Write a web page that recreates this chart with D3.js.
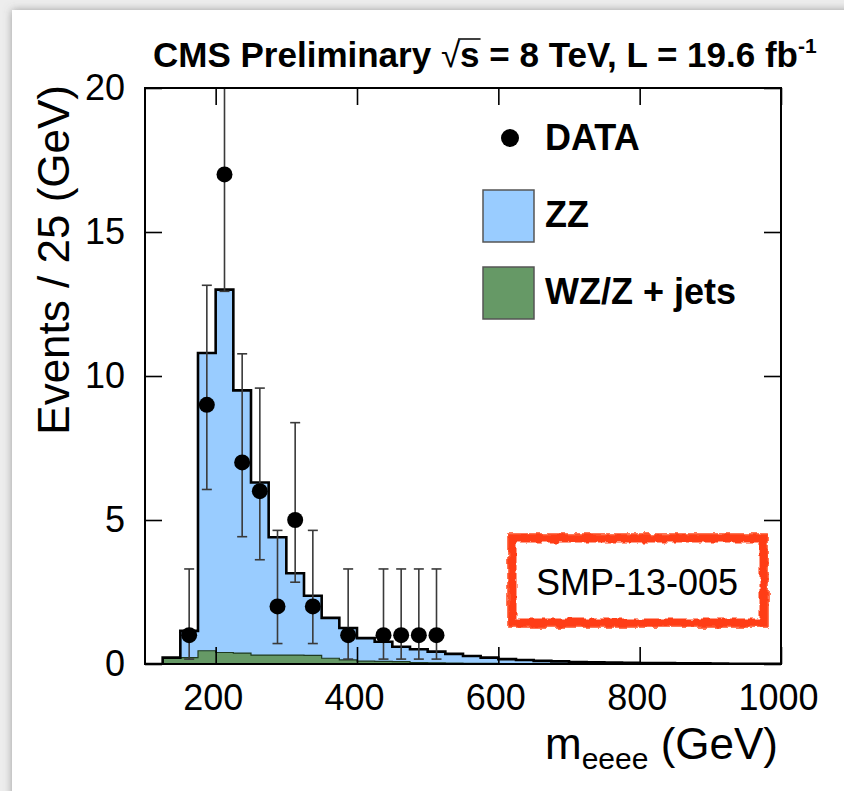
<!DOCTYPE html>
<html>
<head>
<meta charset="utf-8">
<script src="https://cdn.jsdelivr.net/npm/d3@7"></script>
<style>
  html, body { margin: 0; padding: 0; background: #ededed; }
  svg { display: block; font-family: "Liberation Sans", Arial, Helvetica, sans-serif; }
</style>
</head>
<body>
<div id="chart"></div>
<script>
// bins of 25 GeV (lower edges), last edge is 1000
const binLow = [100, 125, 150, 175, 200, 225, 250, 275, 300, 325, 350, 375,
                400, 425, 450, 475, 500, 525, 550, 575, 600, 625, 650, 675,
                700, 725, 750, 775, 800, 825, 850, 875, 900, 925, 950, 975];
const binEnd = 1000;

// stacked MC expectations per bin
const zzEvents = [0, 0.02, 0.93, 10.34, 12.6, 9.12, 5.99, 4.09, 2.84, 2.07, 1.40, 1.11,
                  0.80, 0.68, 0.52, 0.46, 0.39, 0.32, 0.26, 0.20, 0.16, 0.14, 0.11, 0.09,
                  0.07, 0.06, 0.05, 0.04, 0.03, 0.03, 0.02, 0.02, 0.015, 0.01, 0.01, 0.01];
const wzEvents = [0, 0.20, 0.22, 0.46, 0.40, 0.38, 0.31, 0.31, 0.31, 0.30, 0.20, 0.14,
                  0.10, 0.09, 0.08, 0.05, 0.04, 0.03, 0.02, 0.02, 0.01, 0, 0, 0,
                  0, 0, 0, 0, 0, 0, 0, 0, 0, 0, 0, 0];

// observed data (bin centres), with asymmetric poisson intervals
const dataMass = [162.5, 187.5, 212.5, 237.5, 262.5, 287.5, 312.5, 337.5, 387.5, 437.5, 462.5, 487.5, 512.5];
const dataCount = [1, 9, 17, 7, 6, 2, 5, 2, 1, 1, 1, 1, 1];
const dataLow = [0.17, 6.06, 12.94, 4.42, 3.62, 0.71, 2.84, 0.71, 0.17, 0.17, 0.17, 0.17, 0.17];
const dataHigh = [3.30, 13.15, 22.3, 10.77, 9.58, 4.64, 8.38, 4.64, 3.30, 3.30, 3.30, 3.30, 3.30];

const xTicks = [200, 400, 600, 800, 1000];
const yTicks = [0, 5, 10, 15, 20];

const legendItems = [
  {label: 'DATA', type: 'marker'},
  {label: 'ZZ', type: 'box', color: '#99ccff'},
  {label: 'WZ/Z + jets', type: 'box', color: '#669966'}
];

const width = 844, height = 791;
const frameL = 145, frameR = 781, frameT = 88, frameB = 664;

const svg = d3.select('#chart').append('svg')
    .attr('width', width)
    .attr('height', height);

const defs = svg.append('defs');

const shadow = defs.append('filter').attr('id', 'shadow')
    .attr('x', '-5%').attr('y', '-5%').attr('width', '110%').attr('height', '110%');
shadow.append('feDropShadow')
    .attr('dx', 0).attr('dy', 0)
    .attr('stdDeviation', 4)
    .attr('flood-color', '#666')
    .attr('flood-opacity', 0.6);

const rough = defs.append('filter').attr('id', 'rough')
    .attr('x', '-10%').attr('y', '-10%').attr('width', '120%').attr('height', '120%');
rough.append('feTurbulence')
    .attr('type', 'fractalNoise')
    .attr('baseFrequency', 0.12)
    .attr('numOctaves', 2)
    .attr('seed', 3)
    .attr('result', 'noise');
rough.append('feDisplacementMap')
    .attr('in', 'SourceGraphic')
    .attr('in2', 'noise')
    .attr('scale', 6)
    .attr('xChannelSelector', 'R')
    .attr('yChannelSelector', 'G');

defs.append('clipPath').attr('id', 'plotClip')
  .append('rect')
    .attr('x', frameL).attr('y', frameT)
    .attr('width', frameR - frameL).attr('height', frameB - frameT);

// white card
svg.append('rect')
    .attr('x', 12).attr('y', 10)
    .attr('width', width + 20).attr('height', height + 20)
    .attr('fill', '#fff')
    .attr('filter', 'url(#shadow)');

const x = d3.scaleLinear().domain([100, 1000]).range([frameL, frameR]);
const y = d3.scaleLinear().domain([0, 20]).range([frameB, frameT]);

const bins = binLow.map((b, i) => ({x0: b, zz: zzEvents[i], wz: wzEvents[i]}));
bins.push({x0: binEnd, zz: zzEvents[zzEvents.length - 1], wz: wzEvents[wzEvents.length - 1]});

const plot = svg.append('g').attr('clip-path', 'url(#plotClip)');

// total stack (ZZ on top of WZ)
plot.append('path')
    .datum(bins)
    .attr('fill', '#99ccff')
    .attr('d', d3.area()
        .curve(d3.curveStepAfter)
        .x(d => x(d.x0))
        .y0(y(0))
        .y1(d => y(d.zz + d.wz)));

plot.append('path')
    .datum(bins)
    .attr('fill', '#669966')
    .attr('stroke', '#1f3a1f')
    .attr('stroke-width', 1.2)
    .attr('d', d3.area()
        .curve(d3.curveStepAfter)
        .x(d => x(d.x0))
        .y0(y(0))
        .y1(d => y(d.wz)));

plot.append('path')
    .datum(bins)
    .attr('fill', 'none')
    .attr('stroke', '#000')
    .attr('stroke-width', 2.6)
    .attr('d', d3.line()
        .curve(d3.curveStepAfter)
        .x(d => x(d.x0))
        .y(d => y(d.zz + d.wz)));

// data points with error bars
const pts = plot.append('g')
    .selectAll('g')
    .data(dataMass.map((m, i) => ({m, n: dataCount[i], lo: dataLow[i], hi: dataHigh[i]})))
    .join('g');

pts.append('line')
    .attr('x1', d => x(d.m)).attr('x2', d => x(d.m))
    .attr('y1', d => y(d.lo)).attr('y2', d => y(d.hi))
    .attr('stroke', '#3a3a3a')
    .attr('stroke-width', 1.6);

pts.selectAll('line.cap')
    .data(d => [{m: d.m, v: d.lo}, {m: d.m, v: d.hi}])
    .join('line')
    .attr('class', 'cap')
    .attr('x1', d => x(d.m) - 5).attr('x2', d => x(d.m) + 5)
    .attr('y1', d => y(d.v)).attr('y2', d => y(d.v))
    .attr('stroke', '#3a3a3a')
    .attr('stroke-width', 1.6);

pts.append('circle')
    .attr('cx', d => x(d.m))
    .attr('cy', d => y(d.n))
    .attr('r', 8)
    .attr('fill', '#000');

// frame and ticks on all sides
const tickLen = 17;

const xAxis = svg.append('g')
    .attr('transform', `translate(0,${frameB})`)
    .call(d3.axisBottom(x).tickValues(xTicks).tickFormat(d3.format('d'))
        .tickSizeInner(-tickLen).tickSizeOuter(0).tickPadding(20));
xAxis.select('.domain').remove();
xAxis.selectAll('.tick line').attr('stroke-width', 1.6);
xAxis.selectAll('.tick text')
    .attr('font-size', 36)
    .attr('fill', '#000')
    .attr('dx', -3);

svg.append('g')
    .attr('transform', `translate(0,${frameT})`)
    .call(d3.axisTop(x).tickValues(xTicks).tickSizeInner(-tickLen).tickSizeOuter(0).tickFormat(''))
    .call(g => g.select('.domain').remove())
    .call(g => g.selectAll('.tick line').attr('stroke-width', 1.6));

const yAxis = svg.append('g')
    .attr('transform', `translate(${frameL},0)`)
    .call(d3.axisLeft(y).tickValues(yTicks).tickSizeInner(-tickLen).tickSizeOuter(0).tickPadding(20));
yAxis.select('.domain').remove();
yAxis.selectAll('.tick line').attr('stroke-width', 1.6);
yAxis.selectAll('.tick text')
    .attr('font-size', 36)
    .attr('fill', '#000');

svg.append('g')
    .attr('transform', `translate(${frameR},0)`)
    .call(d3.axisRight(y).tickValues(yTicks).tickSizeInner(-tickLen).tickSizeOuter(0).tickFormat(''))
    .call(g => g.select('.domain').remove())
    .call(g => g.selectAll('.tick line').attr('stroke-width', 1.6));

svg.append('rect')
    .attr('x', frameL).attr('y', frameT)
    .attr('width', frameR - frameL).attr('height', frameB - frameT)
    .attr('fill', 'none')
    .attr('stroke', '#000')
    .attr('stroke-width', 2);

// axis titles
const xTitle = svg.append('text')
    .attr('x', 778).attr('y', 759)
    .attr('text-anchor', 'end')
    .attr('font-size', 44);
xTitle.append('tspan').text('m');
xTitle.append('tspan').attr('font-size', 30).attr('dy', 10).text('eeee');
xTitle.append('tspan').attr('dy', -10).text(' (GeV)');

svg.append('text')
    .attr('transform', 'translate(69,85) rotate(-90)')
    .attr('text-anchor', 'end')
    .attr('font-size', 44)
    .text('Events / 25 (GeV)');

// title
const title = svg.append('text')
    .attr('x', 153).attr('y', 67)
    .attr('font-size', 35)
    .attr('font-weight', 'bold');
title.append('tspan').text('CMS Preliminary ');
title.append('tspan').attr('font-weight', 'normal').text('\u221A');
title.append('tspan').text('s');
title.append('tspan').text(' = 8 TeV, L = 19.6 fb');
title.append('tspan').attr('font-size', 21).attr('dy', -14).text('-1');

const sIdx = 'CMS Preliminary \u221A'.length;
const sBox = title.node().getExtentOfChar(sIdx);
const rBox = title.node().getExtentOfChar(sIdx - 1);
svg.append('line')
    .attr('x1', rBox.x + rBox.width - 2).attr('x2', sBox.x + sBox.width + 1)
    .attr('y1', 67 - 28).attr('y2', 67 - 28)
    .attr('stroke', '#000')
    .attr('stroke-width', 1.5);

// legend
const legend = svg.append('g');
legendItems.forEach((d, i) => {
  const cy = 138 + i * 77;
  if (d.type === 'marker') {
    legend.append('circle').attr('cx', 510).attr('cy', cy).attr('r', 9).attr('fill', '#000');
  } else {
    legend.append('rect')
        .attr('x', 483).attr('y', cy - 25)
        .attr('width', 51).attr('height', 52)
        .attr('fill', d.color)
        .attr('stroke', '#555')
        .attr('stroke-width', 1.5);
  }
  legend.append('text')
      .attr('x', 545).attr('y', cy + 12)
      .attr('font-size', 36)
      .attr('font-weight', 'bold')
      .text(d.label);
});

// analysis stamp
const stamp = svg.append('g');
stamp.append('rect')
    .attr('x', 512).attr('y', 538)
    .attr('width', 252).attr('height', 85)
    .attr('fill', 'none')
    .attr('stroke', '#ff3d17')
    .attr('stroke-width', 9)
    .attr('filter', 'url(#rough)');
stamp.append('rect')
    .attr('x', 508).attr('y', 534)
    .attr('width', 260).attr('height', 93)
    .attr('fill', 'none')
    .attr('stroke', '#ff5a33')
    .attr('stroke-width', 2)
    .attr('stroke-opacity', 0.6)
    .attr('filter', 'url(#rough)');
stamp.append('text')
    .attr('x', 637).attr('y', 595)
    .attr('text-anchor', 'middle')
    .attr('font-size', 36)
    .text('SMP-13-005');
</script>
</body>
</html>
